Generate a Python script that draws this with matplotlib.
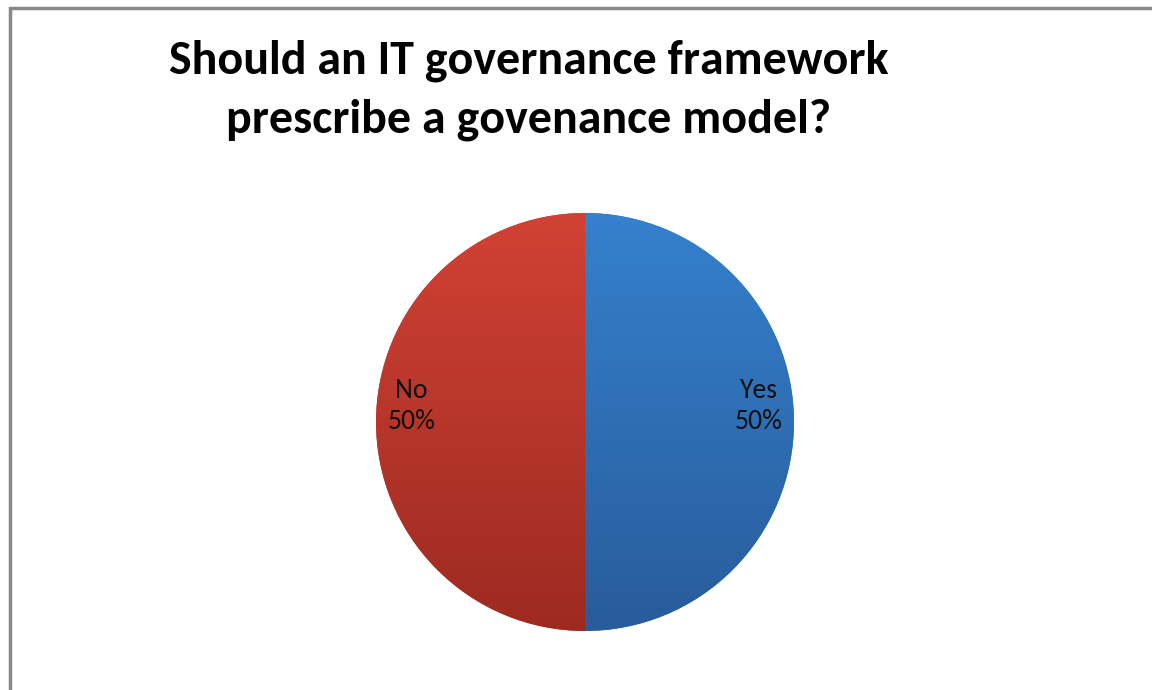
import matplotlib.pyplot as plt
import numpy as np
from matplotlib.colors import LinearSegmentedColormap
from matplotlib.patches import Rectangle

# Survey answers
labels = ['Yes', 'No']
shares = [50, 50]
# top / bottom colours of the vertical gradient in each slice
top_colors = ['#3581cd', '#d14234']
bottom_colors = ['#285c9b', '#9d2a21']

title = 'Should an IT governance framework\nprescribe a govenance model?'

fig = plt.figure(figsize=(11.52, 6.9), dpi=100)
W, H = 1152, 690

# grey chart frame (only left and top edges visible)
fig.patches.append(Rectangle((9.5 / W, -0.1), 1.2, 1.1 - 8.5 / H, transform=fig.transFigure,
                             fill=False, edgecolor='#888888', linewidth=2.5, clip_on=False))

fig.text(529 / W, 1 - 39 / H, title, ha='center', va='top', fontsize=34.5,
         fontweight='bold', family=['Carlito', 'Lato', 'DejaVu Sans'], linespacing=1.5)

cx, cy, r = 585, 422, 209
ax = fig.add_axes([(cx - r) / W, (H - cy - r) / H, 2 * r / W, 2 * r / H])

total = sum(shares)
pie_labels = [f'{l}\n{round(100 * s / total)}%' for l, s in zip(labels, shares)]
wedges, texts = ax.pie(shares, labels=pie_labels, startangle=90, counterclock=False,
                       colors=top_colors, labeldistance=0.83, radius=1,
                       textprops=dict(fontsize=20, color='#111111', ha='center', va='center',
                                      family=['Carlito', 'Lato', 'DejaVu Sans'], linespacing=1.3))

grad = np.linspace(0, 1, 256).reshape(-1, 1)
for w, c0, c1 in zip(wedges, top_colors, bottom_colors):
    cmap = LinearSegmentedColormap.from_list('g', [c0, c1])
    im = ax.imshow(grad, cmap=cmap, extent=[-1, 1, -1, 1], aspect='auto', origin='upper', zorder=w.get_zorder())
    im.set_clip_path(w)

for t in texts:
    x, y = t.get_position()
    t.set_position((x, y + 0.075))
    t.set_zorder(5)

ax.set_xlim(-1, 1)
ax.set_ylim(-1, 1)
ax.set_aspect('equal')
ax.axis('off')

fig.savefig('out.png', dpi=100, facecolor='white')
